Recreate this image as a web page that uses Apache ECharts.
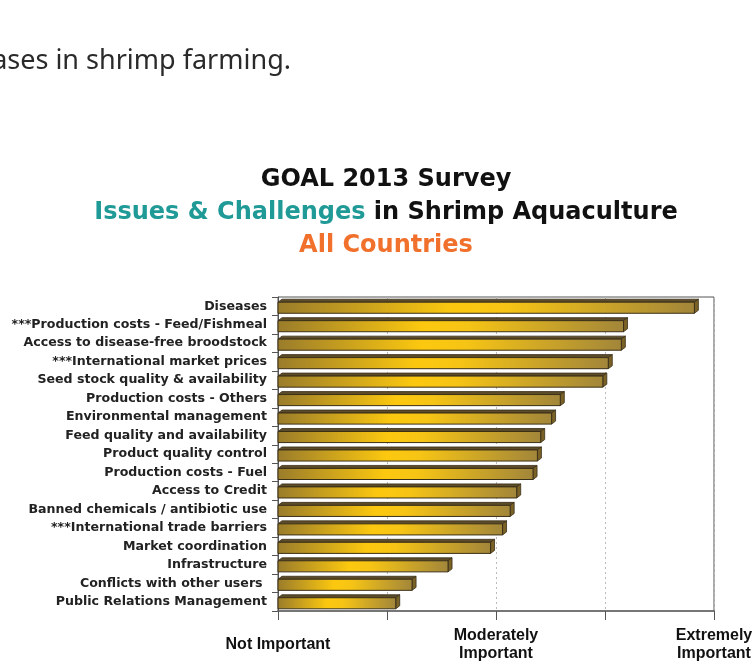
<!DOCTYPE html>
<html>
<head>
<meta charset="utf-8">
<script src="https://cdn.jsdelivr.net/npm/echarts@6/dist/echarts.min.js"></script>
<style>
html,body{margin:0;padding:0;background:#fff;}
#chart{width:755px;height:661px;}
</style>
</head>
<body>
<div id="chart"></div>
<script>
// ---- data ----
const categories = [
  'Diseases',
  '***Production costs - Feed/Fishmeal',
  'Access to disease-free broodstock',
  '***International market prices',
  'Seed stock quality & availability',
  'Production costs - Others',
  'Environmental management',
  'Feed quality and availability',
  'Product quality control',
  'Production costs - Fuel',
  'Access to Credit',
  'Banned chemicals / antibiotic use',
  '***International trade barriers',
  'Market coordination',
  'Infrastructure',
  'Conflicts with other users ',
  'Public Relations Management'
];
const scores = [4.82, 4.17, 4.15, 4.03, 3.98, 3.59, 3.51, 3.41, 3.38, 3.34, 3.19, 3.13, 3.06, 2.95, 2.56, 2.23, 2.08];
const tickLabels = {1: 'Not Important', 3: 'Moderately\nImportant', 5: 'Extremely\nImportant'};
const xMin = 1, xMax = 5;

const chart = echarts.init(document.getElementById('chart'), null, {renderer: 'canvas'});

function renderItem(params, api) {
  const v = api.value(0), idx = api.value(1);
  const p1 = api.coord([v, idx]);
  const p0 = api.coord([xMin, idx]);
  const band = api.size([0, 1])[1];
  const h = band * 0.6, dx = 4, dy = 3;
  const yc = p1[1] + 1.5;
  const top = yc - h / 2, bot = yc + h / 2;
  const x0 = p0[0], x1 = p1[0];
  const grad = new echarts.graphic.LinearGradient(0, 0, 1, 0, [
    {offset: 0, color: '#9a7c2b'},
    {offset: 0.42, color: '#fcc80f'},
    {offset: 0.55, color: '#f6c415'},
    {offset: 1, color: '#a2863a'}
  ]);
  return {
    type: 'group',
    children: [
      {type: 'polygon', shape: {points: [[x0, top], [x0 + dx, top - dy], [x1 + dx, top - dy], [x1, top]]},
        style: {fill: '#5c4c2a', stroke: '#3a2f18', lineWidth: 0.8}},
      {type: 'polygon', shape: {points: [[x1, top], [x1 + dx, top - dy], [x1 + dx, bot - dy], [x1, bot]]},
        style: {fill: '#7a6226', stroke: '#3a2f18', lineWidth: 0.8}},
      {type: 'rect', shape: {x: x0, y: top, width: x1 - x0, height: h},
        style: {fill: grad, stroke: '#3a2f18', lineWidth: 1}}
    ]
  };
}

const titleFont = 'bold 24px "DejaVu Sans"';
const option = {
  backgroundColor: '#fff',
  animation: false,
  graphic: [
    {type: 'text', x: 291, y: 61, style: {text: 'ases in shrimp farming.', font: '27px "Noto Sans"', fill: '#2a2a2a', align: 'right', verticalAlign: 'middle'}},
    {type: 'text', x: 386, y: 180, style: {text: 'GOAL 2013 Survey', font: titleFont, fill: '#111', align: 'center', verticalAlign: 'middle'}},
    {type: 'text', x: 386, y: 213, style: {
      text: '{t|Issues & Challenges}{b| in Shrimp Aquaculture}',
      font: titleFont, align: 'center', verticalAlign: 'middle',
      rich: {t: {fill: '#1f9a97', font: titleFont}, b: {fill: '#111', font: titleFont}}
    }},
    {type: 'text', x: 386, y: 246, style: {text: 'All Countries', font: titleFont, fill: '#f0702c', align: 'center', verticalAlign: 'middle'}}
  ],
  grid: {left: 278, right: 41, top: 297, bottom: 50, containLabel: false, outerBoundsMode: 'none',
    show: true, borderColor: '#555', borderWidth: 1, backgroundColor: 'transparent'},
  xAxis: {
    type: 'value', min: xMin, max: xMax, interval: 1,
    axisLine: {show: true, lineStyle: {color: '#666', width: 1.5}},
    axisTick: {show: true, length: 9, lineStyle: {color: '#555'}},
    splitLine: {show: true, lineStyle: {color: '#bbb', type: [2, 3], width: 1}},
    axisLabel: {
      margin: 34, fontFamily: 'Liberation Sans', fontWeight: 'bold', fontSize: 16, color: '#111', lineHeight: 18,
      verticalAlign: 'middle',
      formatter: v => tickLabels[v] || ''
    }
  },
  yAxis: {
    type: 'category', data: categories, inverse: true,
    axisLine: {show: true, lineStyle: {color: '#555', width: 1}},
    axisTick: {show: true, length: 6, lineStyle: {color: '#555'}},
    splitLine: {show: false},
    axisLabel: {margin: 11, fontFamily: 'DejaVu Sans', fontWeight: 'bold', fontSize: 12.6, color: '#222', padding: [9, 0, 0, 0]}
  },
  series: [{
    type: 'custom',
    renderItem: renderItem,
    encode: {x: 0, y: 1},
    data: scores.map((v, i) => [v, i]),
    clip: false
  }]
};
chart.setOption(option);
</script>
</body>
</html>
